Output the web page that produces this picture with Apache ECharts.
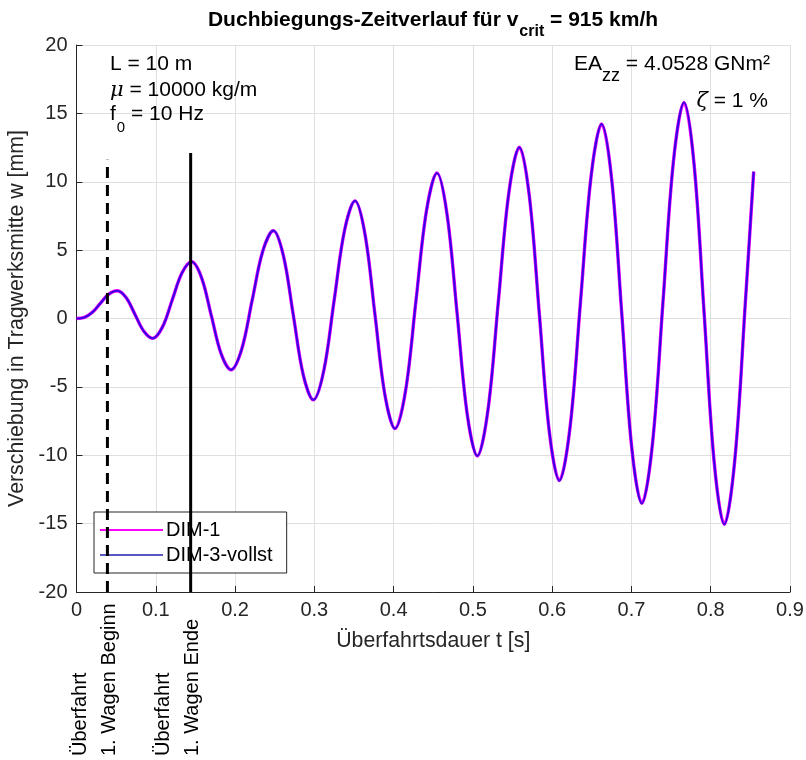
<!DOCTYPE html>
<html><head><meta charset="utf-8">
<script src="https://cdn.jsdelivr.net/npm/echarts@6/dist/echarts.min.js"></script>
<style>html,body{margin:0;padding:0;background:#fff}#c{width:806px;height:760px}</style>
</head><body><div id="c"></div>
<script>
// ---- data ----
const timeS = [0, 0.010, 0.020, 0.030, 0.040, 0.0515,
  0.0627, 0.0738, 0.0850, 0.0961, 0.1084, 0.1207, 0.1330, 0.1453,
  0.1577, 0.1701, 0.1825, 0.1949, 0.2083, 0.2216, 0.2350, 0.2483,
  0.2609, 0.2735, 0.2861, 0.2987, 0.3119, 0.3250, 0.3382, 0.3513,
  0.3639, 0.3765, 0.3891, 0.4017, 0.4150, 0.4282, 0.4415, 0.4547,
  0.4674, 0.4802, 0.4929, 0.5056, 0.5189, 0.5321, 0.5454, 0.5586,
  0.5712, 0.5838, 0.5964, 0.6090, 0.6224, 0.6357, 0.6491, 0.6624,
  0.6751, 0.6878, 0.7004, 0.7131, 0.7264, 0.7397, 0.7530, 0.7663,
  0.7790, 0.7917, 0.8044, 0.8171, 0.8304, 0.8436, 0.8542];
const wDim1 = [0, 0.08, 0.45, 1.10, 1.75, 2.03,
  1.52, 0.29, -0.94, -1.45, -0.63, 1.35, 3.33, 4.15,
  2.99, 0.20, -2.59, -3.75, -2.26, 1.34, 4.93, 6.42,
  4.61, 0.24, -4.14, -5.95, -3.82, 1.33, 6.47, 8.60,
  6.16, 0.28, -5.61, -8.05, -5.31, 1.30, 7.90, 10.64,
  7.61, 0.30, -7.02, -10.05, -6.74, 1.24, 9.21, 12.52,
  8.95, 0.34, -8.28, -11.85, -8.03, 1.19, 10.40, 14.22,
  10.16, 0.35, -9.46, -13.52, -9.23, 1.14, 11.51, 15.80,
  11.28, 0.38, -10.53, -15.05, -10.32, 1.10, 10.74];
const wDim3 = [0, 0.08, 0.45, 1.10, 1.75, 2.03,
  1.52, 0.29, -0.94, -1.45, -0.63, 1.35, 3.33, 4.15,
  2.99, 0.20, -2.59, -3.75, -2.26, 1.34, 4.93, 6.42,
  4.61, 0.24, -4.14, -5.95, -3.82, 1.33, 6.47, 8.60,
  6.16, 0.28, -5.61, -8.05, -5.31, 1.30, 7.90, 10.64,
  7.61, 0.30, -7.02, -10.05, -6.74, 1.24, 9.21, 12.52,
  8.95, 0.34, -8.28, -11.85, -8.03, 1.19, 10.40, 14.22,
  10.16, 0.35, -9.46, -13.52, -9.23, 1.14, 11.51, 15.80,
  11.28, 0.38, -10.53, -15.05, -10.32, 1.10, 10.74];
const seriesNames = ['DIM-1', 'DIM-3-vollst'];
const markerTimes = [0.039, 0.144];          // Überfahrt 1. Wagen Beginn / Ende
const markerTops = [11.6, 12.1];
const markerLabels = [['Überfahrt', '1. Wagen Beginn'], ['Überfahrt', '1. Wagen Ende']];
const xTicks = [0, 0.9, 0.1];   // min, max, step
const yTicks = [-20, 20, 5];

const FONT = '"Liberation Sans", Arial, sans-serif';
const chart = echarts.init(document.getElementById('c'), null, {renderer: 'canvas'});

const zip = (xs, ys) => xs.map((x, i) => [x, ys[i]]);

const option = {
  backgroundColor: '#fff',
  animation: false,
  textStyle: {fontFamily: FONT},
  grid: {left: 76.5, right: 16, top: 45, bottom: 168, outerBoundsMode: 'none', containLabel: false},
  xAxis: {
    type: 'value', min: xTicks[0], max: xTicks[1], interval: xTicks[2],
    name: 'Überfahrtsdauer t [s]', nameLocation: 'middle', nameGap: 39,
    nameTextStyle: {fontSize: 21.3, color: '#262626', fontFamily: FONT},
    axisLine: {show: true, onZero: false, lineStyle: {color: '#262626', width: 1}},
    axisTick: {show: true, inside: true, length: 6, lineStyle: {color: '#262626'}},
    axisLabel: {fontSize: 20, color: '#262626', margin: 8, fontFamily: FONT,
      formatter: v => (Math.round(v * 10) / 10).toString()},
    splitLine: {show: true, lineStyle: {color: '#dfdfdf', width: 1}}
  },
  yAxis: {
    type: 'value', min: yTicks[0], max: yTicks[1], interval: yTicks[2],
    name: 'Verschiebung in Tragwerksmitte w [mm]', nameLocation: 'middle', nameGap: 44,
    nameTextStyle: {fontSize: 21.3, color: '#262626', fontFamily: FONT},
    axisLine: {show: true, onZero: false, lineStyle: {color: '#262626', width: 1}},
    axisTick: {show: true, inside: true, length: 6, lineStyle: {color: '#262626'}},
    axisLabel: {fontSize: 20, color: '#262626', margin: 9, fontFamily: FONT},
    splitLine: {show: true, lineStyle: {color: '#dfdfdf', width: 1}}
  },
  legend: {
    data: [
      {name: seriesNames[0], icon: 'rect', itemStyle: {color: '#ff00ff'}},
      {name: seriesNames[1], icon: 'rect', itemStyle: {color: '#5858c0'}}
    ],
    orient: 'vertical', left: 94, top: 512,
    padding: [8, 14, 8, 6], itemGap: 5,
    itemWidth: 63, itemHeight: 2,
    backgroundColor: '#fff', borderColor: '#262626', borderWidth: 1, borderRadius: 0,
    textStyle: {fontSize: 20, color: '#000', fontFamily: FONT, padding: [0, 0, 0, -2]},
    selectedMode: false
  },
  series: [
    {name: seriesNames[0], type: 'line', data: zip(timeS, wDim1), smooth: 0.35, symbol: 'none',
     lineStyle: {color: '#ff00ff', width: 3.4}, itemStyle: {color: '#ff00ff'}, z: 2},
    {name: seriesNames[1], type: 'line', data: zip(timeS, wDim3), smooth: 0.35, symbol: 'none',
     lineStyle: {color: '#3c00e4', width: 2.2}, itemStyle: {color: '#5858c0'}, z: 3},
    {name: 'begin', type: 'line', data: [[markerTimes[0], yTicks[0]], [markerTimes[0], markerTops[0]]],
     symbol: 'none', silent: true, lineStyle: {color: '#000', width: 3, type: [11, 7]}, z: 4},
    {name: 'end', type: 'line', data: [[markerTimes[1], yTicks[0]], [markerTimes[1], markerTops[1]]],
     symbol: 'none', silent: true, lineStyle: {color: '#000', width: 3}, z: 4}
  ]
};
chart.setOption(option);

const rich = {
  m: {fontSize: 21, fontFamily: FONT, color: '#000', verticalAlign: 'top', lineHeight: 22},
  i: {fontSize: 21, fontFamily: 'DejaVu Serif, serif', fontStyle: 'italic', color: '#000', verticalAlign: 'top', lineHeight: 22},
  s0: {fontSize: 15, fontFamily: FONT, color: '#000', verticalAlign: 'top', padding: [16, 0, 0, 1]},
  szz: {fontSize: 18, fontFamily: FONT, color: '#000', verticalAlign: 'top', padding: [13, 0, 0, 0]},
  tb: {fontSize: 21, fontWeight: 'bold', fontFamily: FONT, color: '#000', verticalAlign: 'top', lineHeight: 22},
  ts: {fontSize: 16, fontWeight: 'bold', fontFamily: FONT, color: '#000', verticalAlign: 'top', padding: [14, 0, 0, 1]}
};
function txt(x, y, text, align, extra) {
  return Object.assign({type: 'text', x: x, y: y, silent: true,
    style: {text: text, rich: rich, align: align, verticalAlign: 'top'}}, extra || {});
}
const elements = [
  txt(433, 10, '{tb|Duchbiegungs-Zeitverlauf für v}{ts|crit}{tb| = 915 km/h}', 'center'),
  txt(110, 54, '{m|L = 10 m}', 'left'),
  txt(110, 80, '{i|μ}{m| = 10000 kg/m}', 'left'),
  txt(110, 104, '{m|f}{s0|0}{m| = 10 Hz}', 'left'),
  txt(770, 54, '{m|EA}{szz|zz}{m| = 4.0528 GNm²}', 'right'),
  txt(768, 91, '{i|ζ}{m| = 1 %}', 'right')
];
markerTimes.forEach((t, k) => {
  const p = chart.convertToPixel({gridIndex: 0}, [t, yTicks[0]]);
  const offs = [-27, 2];
  markerLabels[k].forEach((s, j) => {
    elements.push({type: 'text', x: p[0] + offs[j], y: 756, rotation: Math.PI / 2, silent: true,
      style: {text: s, fontSize: 20, fontFamily: FONT, fill: '#000', align: 'left', verticalAlign: 'middle'}});
  });
});
chart.setOption({graphic: {elements: elements}});
</script></body></html>
